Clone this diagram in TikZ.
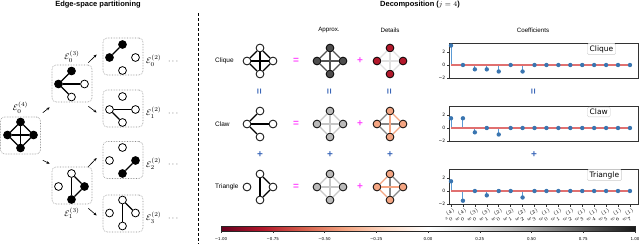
\documentclass[tikz,border=0pt]{standalone}
\usepackage{fontspec}
\setmainfont{Liberation Sans}
\newfontfamily\mplfont{DejaVu Sans}
\usetikzlibrary{arrows.meta, positioning, calc}

% colour map (RdGy)
\definecolor{rdgyA}{HTML}{67001F}
\definecolor{rdgyB}{HTML}{B2182B}
\definecolor{rdgyC}{HTML}{D6604D}
\definecolor{rdgyD}{HTML}{F4A582}
\definecolor{rdgyE}{HTML}{FDDBC7}
\definecolor{rdgyG}{HTML}{E0E0E0}
\definecolor{rdgyH}{HTML}{BABABA}
\definecolor{rdgyI}{HTML}{878787}
\definecolor{rdgyJ}{HTML}{4D4D4D}
\definecolor{rdgyK}{HTML}{1A1A1A}
\definecolor{stemblue}{HTML}{5B9BD5}
\definecolor{markblue}{HTML}{3A75B0}
\definecolor{basered}{HTML}{E07070}
\definecolor{opmag}{HTML}{FF44FF}
\definecolor{opblue}{HTML}{3A66B8}

\pgfdeclarehorizontalshading{rdgy}{100bp}{color(0bp)=(rdgyA); color(25bp)=(rdgyA);
  color(30bp)=(rdgyB); color(35bp)=(rdgyC); color(40bp)=(rdgyD); color(45bp)=(rdgyE);
  color(50bp)=(white); color(55bp)=(rdgyG); color(60bp)=(rdgyH); color(65bp)=(rdgyI);
  color(70bp)=(rdgyJ); color(75bp)=(rdgyK); color(100bp)=(rdgyK)}

% four vertices round a centre: name, x, y, fills (top, left, right, bottom)
\newcommand{\quadnodes}[7]{%
  \node[gv, fill=#4] (#1t) at (#2,#3-13) {};
  \node[gv, fill=#5] (#1l) at (#2-13,#3) {};
  \node[gv, fill=#6] (#1r) at (#2+13,#3) {};
  \node[gv, fill=#7] (#1b) at (#2,#3+13) {};}

% one stem plot: name, shift, values, legend
\newcommand{\coefplot}[4]{%
  \begin{scope}[shift={(0,#2)}]
    \node[plotbox] (#1) at (543.5,60.5) {};
    \foreach \t/\l in {2/2,0/0,-2/−2}
      \draw[axline] (449,{65-(\t)*6.48}) -- ++(-2.5,0) node[ticklab, anchor=east] (#1y\t) {\l};
    \foreach \v [count=\i from 0] in {#3}
      \draw[stemline] ({451+\i*11.93},65) -- ({451+\i*11.93},{65-(\v)*6.48});
    \draw[baseln] (451,65) -- (630,65);
    \foreach \v [count=\i from 0] in {#3}
      \fill[stemmark] ({451+\i*11.93},{65-(\v)*6.48}) circle (2.2pt);
    \node[legbox, anchor=west] (#1leg) at (587,49) {#4};
  \end{scope}}

\begin{document}
\begin{tikzpicture}[x=1pt, y=-1pt,
  gv/.style={circle, draw=black, line width=0.8pt, minimum size=7.8pt, inner sep=0pt, fill=white},
  ge/.style={line width=1.2pt},
  ebox/.style={draw=black!45, densely dotted, line width=0.6pt, rounded corners=4pt,
    minimum width=40pt, minimum height=37pt, inner sep=0pt},
  split/.style={-{Stealth[length=3.2pt, width=2.6pt]}, line width=0.6pt},
  elab/.style={font=\fontsize{8}{9}\selectfont, inner sep=0pt},
  head/.style={font=\bfseries\fontsize{7.5}{9}\selectfont, inner sep=0pt},
  coltxt/.style={font=\fontsize{6.2}{7}\selectfont, inner sep=0pt},
  rowtxt/.style={font=\fontsize{6.5}{7}\selectfont, inner sep=0pt, anchor=west},
  opm/.style={font=\bfseries\fontsize{10}{10}\selectfont, text=opmag, inner sep=0pt},
  opb/.style={font=\bfseries\fontsize{10}{10}\selectfont, text=opblue, inner sep=0pt},
  plotbox/.style={draw=black!80, line width=0.5pt, minimum width=189pt, minimum height=35pt, inner sep=0pt},
  axline/.style={draw=black!80, line width=0.5pt},
  ticklab/.style={font=\mplfont\fontsize{4.5}{5}\selectfont, inner sep=1pt},
  legbox/.style={draw=black!20, fill=white, rounded corners=1.5pt, font=\mplfont\fontsize{7.5}{8}\selectfont,
    inner xsep=2.5pt, inner ysep=2pt},
  stemline/.style={draw=stemblue, line width=0.9pt},
  baseln/.style={draw=basered, line width=1.3pt},
  stemmark/.style={fill=markblue},
  xlab/.style={font=\fontsize{4.5}{5}\selectfont, inner sep=0.5pt, rotate=30, anchor=north east},
  cbar/.style={shading=rdgy, draw=black!85, line width=0.4pt, minimum width=414pt, minimum height=5pt, inner sep=0pt},
  cblab/.style={font=\mplfont\fontsize{4}{5}\selectfont, inner sep=0pt},
  sepline/.style={line width=0.8pt, dash pattern=on 3pt off 2pt}]
\useasboundingbox (0,0) rectangle (640,244);

% ---------- Edge-space partitioning ----------
\node[head] (lefthead) at (98,5) {Edge-space partitioning};
\node[ebox] (b4) at (20.5,135.5) {};
\node[ebox] (b30) at (72,83.5) {};
\node[ebox] (b31) at (72,185.5) {};
\node[elab, above=3pt of b4] (e4) {$\mathcal{E}_0^{(4)}$};
\node[elab, above=2.5pt of b30] (e30) {$\mathcal{E}_0^{(3)}$};
\node[elab, below=3pt of b31] (e31) {$\mathcal{E}_1^{(3)}$};
\foreach \k/\y in {0/56.5, 1/108.5, 2/160, 3/213.5} {
  \node[ebox] (b2\k) at (123,\y) {};
  \node[elab, anchor=west] (e2\k) at (146,\y+4) {$\mathcal{E}_{\k}^{(2)}$};
  \node[elab, anchor=west] (dots\k) at (168,\y+5) {$\cdots$};
}

% graphs in the boxes
\quadnodes{g4}{20.5}{135}{black}{black}{black}{black}
\foreach \a/\b in {t/l,t/r,t/b,l/r,l/b,r/b} \draw[ge] (g4\a) -- (g4\b);
\quadnodes{g30}{71.5}{84}{black}{black}{white}{white}
\foreach \a/\b in {l/t,l/r,l/b} \draw[ge] (g30\a) -- (g30\b);
\quadnodes{g31}{71.5}{186.5}{white}{white}{black}{black}
\foreach \a/\b in {t/r,t/b,r/b} \draw[ge] (g31\a) -- (g31\b);
\quadnodes{g20}{122.5}{57.5}{black}{black}{white}{white}
\draw[ge] (g20t) -- (g20l);
\quadnodes{g21}{122.5}{109.5}{white}{white}{white}{white}
\foreach \a/\b in {l/r,l/b} \draw[ge] (g21\a) -- (g21\b);
\quadnodes{g22}{122.5}{160.5}{white}{white}{black}{black}
\draw[ge] (g22r) -- (g22b);
\quadnodes{g23}{122.5}{213}{white}{white}{white}{white}
\foreach \a/\b in {t/b,t/r} \draw[ge] (g23\a) -- (g23\b);

% splitting arrows
\draw[split] ([xshift=2pt,yshift=4pt]b4.north east) -- ([xshift=-2pt,yshift=-5pt]b30.south west);
\draw[split] ([xshift=2pt,yshift=-6pt]b4.south east) -- ([xshift=-2pt,yshift=3pt]b31.north west);
\draw[split] ([xshift=-4pt,yshift=2pt]b30.north east) -- ([xshift=-6pt,yshift=2pt]b20.west);
\draw[split] ([xshift=-4pt,yshift=-4pt]b30.south east) -- ([xshift=-6pt,yshift=-4pt]b21.west);
\draw[split] ([xshift=-4pt]b31.north east) -- ([xshift=-6pt,yshift=2pt]b22.west);
\draw[split] ([xshift=-4pt,yshift=-4pt]b31.south east) -- ([xshift=-6pt,yshift=-2pt]b23.west);

% separator
\draw[sepline] (198,13) -- (198,244);

% ---------- Decomposition ----------
\node[head] (righthead) at (420,5) {Decomposition ($j = 4$)};
\node[coltxt] (hApprox) at (329,30) {Approx.};
\node[coltxt] (hDetails) at (390,30) {Details};
\node[coltxt] (hCoef) at (533,30) {Coefficients};
\node[rowtxt] (rClique) at (215,61) {Clique};
\node[rowtxt] (rClaw) at (215,124) {Claw};
\node[rowtxt] (rTriangle) at (215,187) {Triangle};

% clique row
\quadnodes{in1}{260}{61}{white}{white}{white}{white}
\foreach \a/\b in {t/l,t/r,t/b,l/r,l/b,r/b} \draw[ge] (in1\a) -- (in1\b);
\quadnodes{ap1}{330}{61}{rdgyJ}{rdgyJ}{rdgyJ}{rdgyJ}
\foreach \a/\b in {t/l,t/r,t/b,l/r,l/b,r/b} \draw[ge, draw=black!68] (ap1\a) -- (ap1\b);
\quadnodes{de1}{390}{61}{rdgyB}{rdgyB}{rdgyB}{rdgyB}
\foreach \a/\b in {t/l,t/r,t/b,l/r,l/b,r/b} \draw[ge, draw=rdgyG] (de1\a) -- (de1\b);

% claw row
\quadnodes{in2}{260}{124}{white}{white}{white}{white}
\foreach \a/\b in {l/t,l/r,l/b} \draw[ge] (in2\a) -- (in2\b);
\quadnodes{ap2}{330}{124}{rdgyH}{rdgyH}{rdgyH}{rdgyH}
\foreach \a/\b in {t/l,t/r,t/b,l/r,l/b,r/b} \draw[ge, draw=black!22] (ap2\a) -- (ap2\b);
\quadnodes{de2}{390}{124}{rdgyD}{rdgyD}{rdgyD}{rdgyD}
\foreach \a/\b/\c in {l/t/rdgyI,l/r/rdgyI,l/b/rdgyI,t/b/rdgyD,t/r/rdgyD,r/b/rdgyD}
  \draw[ge, draw=\c] (de2\a) -- (de2\b);

% triangle row
\quadnodes{in3}{260}{187}{white}{white}{white}{white}
\foreach \a/\b in {t/r,t/b,r/b} \draw[ge] (in3\a) -- (in3\b);
\quadnodes{ap3}{330}{187}{rdgyH}{rdgyH}{rdgyH}{rdgyH}
\foreach \a/\b in {t/l,t/r,t/b,l/r,l/b,r/b} \draw[ge, draw=black!22] (ap3\a) -- (ap3\b);
\quadnodes{de3}{390}{187}{rdgyD}{rdgyD}{rdgyD}{rdgyD}
\foreach \a/\b/\c in {t/r/rdgyI,t/b/rdgyI,r/b/rdgyI,l/t/rdgyD,l/r/rdgyD,l/b/rdgyD}
  \draw[ge, draw=\c] (de3\a) -- (de3\b);

% operators
\foreach \r/\y in {1/61,2/124,3/187} {
  \node[opm] (eq\r) at (296,\y) {=};
  \node[opm] (pl\r) at (360,\y) {+};
}
\foreach \c/\x in {a/260,b/330,c/390,d/534} {
  \node[opb, rotate=90] (veq\c) at (\x,92) {=};
  \node[opb] (vpl\c) at (\x,155) {+};
}

% coefficients
\coefplot{p1}{0}{3,0,-0.67,-0.67,-1,0,-1,0,0,0,0,0,0,0,0,0}{Clique}
\coefplot{p2}{63}{1.5,1.5,-0.67,0,-1,0,0,0,0,0,0,0,0,0,0,0}{Claw}
\coefplot{p3}{126}{1.5,-1.5,0,-0.67,0,0,-1,0,0,0,0,0,0,0,0,0}{Triangle}
\foreach \l [count=\i from 0] in {s_0^{(4)}, w_0^{(4)}, w_0^{(3)}, w_1^{(3)}, w_0^{(2)}, w_1^{(2)},
    w_2^{(2)}, w_3^{(2)}, w_0^{(1)}, w_1^{(1)}, w_2^{(1)}, w_3^{(1)}, w_4^{(1)}, w_5^{(1)}, w_6^{(1)}, w_7^{(1)}} {
  \draw[axline] ({451+\i*11.93},204) -- ++(0,2.5);
  \node[xlab] (xl\i) at ({453.5+\i*11.93},207) {$\l$};
}

% colour bar
\node[cbar] (cbar) at (428,228.5) {};
\foreach \l [count=\i from 0] in {−1.00,−0.75,−0.50,−0.25,0.00,0.25,0.50,0.75,1.00} {
  \draw[axline, line width=0.3pt] ({221+\i*51.75},231) -- ++(0,2);
  \node[cblab] (cb\i) at ({221+\i*51.75},239.5) {\l};
}
\end{tikzpicture}
\end{document}
